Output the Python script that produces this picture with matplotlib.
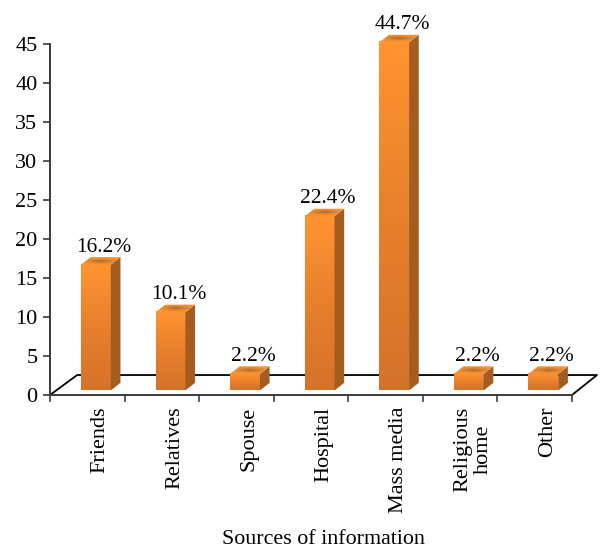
import numpy as np
import matplotlib
matplotlib.use("Agg")
import matplotlib.pyplot as plt
from matplotlib.colors import LinearSegmentedColormap
from matplotlib.patches import Polygon, Rectangle

categories = ["Friends", "Relatives", "Spouse", "Hospital", "Mass media", "Religious\nhome", "Other"]
values = [16.2, 10.1, 2.2, 22.4, 44.7, 2.2, 2.2]
yticks = [0, 5, 10, 15, 20, 25, 30, 35, 40, 45]

plt.rcParams["font.family"] = ["Liberation Serif", "DejaVu Serif"]

W, H = 610, 559
fig = plt.figure(figsize=(W / 100, H / 100), dpi=100)
ax = fig.add_axes([50 / W, 1 - 395 / H, 522 / W, 351 / H])
ax.set_xlim(0, 7)
ax.set_ylim(0, 45)

front_cmap = LinearSegmentedColormap.from_list("front", ["#d5722a", "#e8802c", "#ff9431"])
top_cmap = LinearSegmentedColormap.from_list("top", ["#b06a28", "#d98433", "#f89335"])

width = 0.40
offset = 0.115
base = 0.58
lift = 0.5
dx = 0.130
dy = 0.98

# floor of the 3d chart
ax.plot([0, dx * 2.8, 7 + 0.335, 7], [0, 2.56, 2.56, 0], color="black", lw=1.3, clip_on=False, zorder=1)

for i, v in enumerate(values):
    l = i + 0.5 + offset - width / 2
    r = l + width
    h = v + lift
    # front face
    ax.imshow(np.linspace(1, 0, 100).reshape(-1, 1), cmap=front_cmap, aspect="auto",
              extent=(l, r, base, h), zorder=3, clip_on=False)
    # side face
    ax.add_patch(Polygon([(r, base), (r + dx, base + dy), (r + dx, h + dy), (r, h)],
                         facecolor="#a55d1f", edgecolor="none", zorder=3, clip_on=False))
    # top face, dark in the middle
    xx, yy = np.meshgrid(np.linspace(-1, 1, 60), np.linspace(-1, 1, 40))
    top = ax.imshow(np.clip(np.sqrt(xx ** 2 + (yy * 1.2) ** 2), 0, 1), cmap=top_cmap, aspect="auto",
                    extent=(l, r + dx, h, h + dy), zorder=3, origin="lower")
    clip = Polygon([(l, h), (r, h), (r + dx, h + dy), (l + dx, h + dy)], transform=ax.transData,
                   facecolor="none", edgecolor="none", clip_on=False)
    ax.add_patch(clip)
    top.set_clip_on(True)
    top.set_clip_box(fig.bbox)
    top.set_clip_path(clip)
    ax.text(i + 0.5 + offset + dx / 2 + 0.045, h + dy + 0.05, "%.1f%%" % v, ha="center", va="bottom",
            fontsize=15.5, zorder=4, clip_on=False)

ax.set_xlim(0, 7)
ax.set_ylim(0, 45)
ax.spines["top"].set_visible(False)
ax.spines["right"].set_visible(False)
ax.spines["left"].set_linewidth(1.4)
ax.spines["bottom"].set_linewidth(1.4)
ax.spines["left"].set_color("#3a3a3a")
ax.spines["bottom"].set_color("#3a3a3a")
ax.set_yticks(yticks)
ax.set_xticks(range(8))
ax.set_xticklabels([])
ax.tick_params(axis="y", length=5, width=1.2, labelsize=16, pad=4, color="#3a3a3a")
ax.tick_params(axis="x", direction="in", length=0)
for t in range(8):
    ax.plot([t, t], [0, -0.75], color="#3a3a3a", lw=1.2, clip_on=False, zorder=2)

for i, c in enumerate(categories):
    ax.text(i + 0.67, -1.5, c, rotation=90, ha="center", va="top", fontsize=16,
            linespacing=1.1, multialignment="center", clip_on=False)

fig.text(323 / W, 1 - 539 / H, "Sources of information", ha="center", va="center", fontsize=15.8)
# the reference cuts the axis title off along its lower edge
fig.add_artist(Rectangle((0, 0), 1, 1 - 546 / H, transform=fig.transFigure, facecolor="white",
                         edgecolor="none", zorder=10))

fig.savefig("out.png", dpi=100)
